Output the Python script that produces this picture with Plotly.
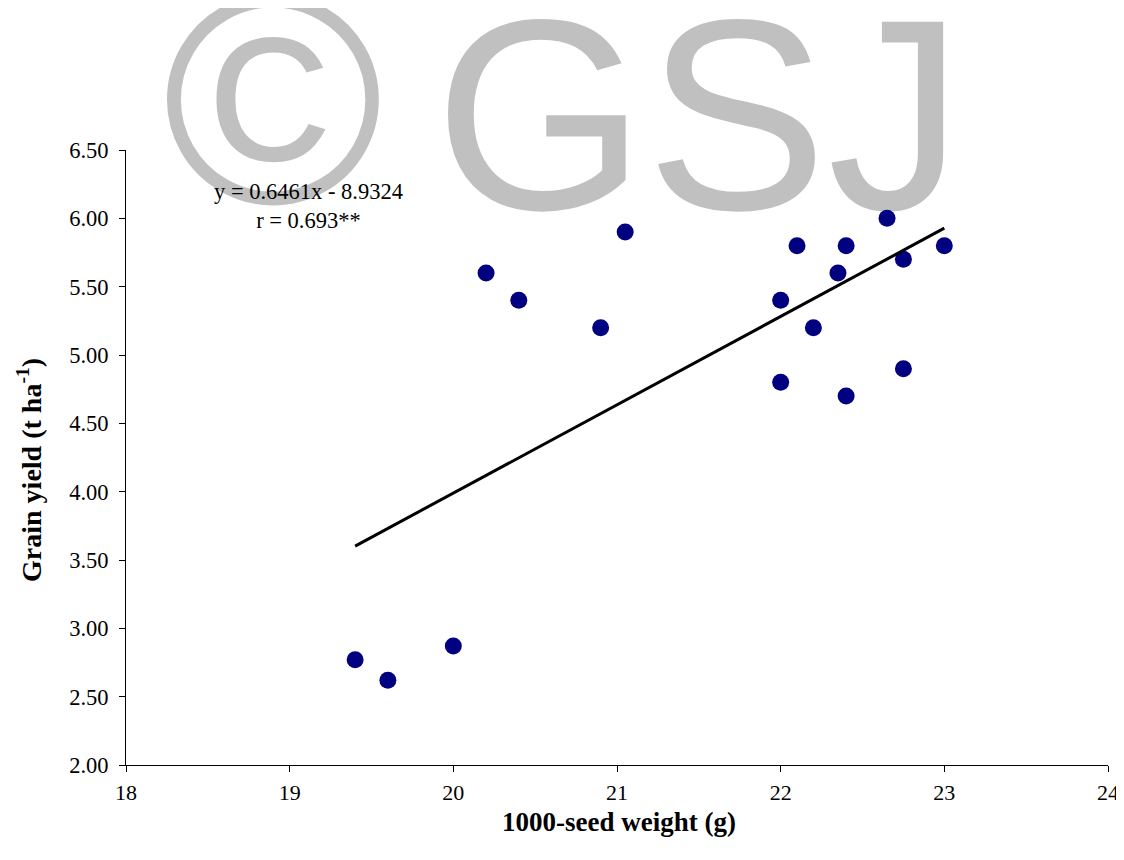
import plotly.graph_objects as go

# ---- data ----
seed_weight = [19.4, 19.6, 20.0, 20.2, 20.4, 20.9, 21.05, 22.0, 22.0,
               22.1, 22.2, 22.35, 22.4, 22.4, 22.65, 22.75, 22.75, 23.0]
grain_yield = [2.77, 2.62, 2.87, 5.6, 5.4, 5.2, 5.9, 5.4, 4.8,
               5.8, 5.2, 5.6, 5.8, 4.7, 6.0, 5.7, 4.9, 5.8]

slope = 0.6461
intercept = -8.9324
eq_text = "y = 0.6461x - 8.9324<br>r = 0.693**"

x_ticks = [18, 19, 20, 21, 22, 23, 24]
y_ticks = [2.0, 2.5, 3.0, 3.5, 4.0, 4.5, 5.0, 5.5, 6.0, 6.5]

x_title = "<b>1000-seed weight (g)</b>"
y_title = "<b>Grain yield (t ha<sup>-1</sup>)</b>"

wm_symbol = "©"
wm_text = "GSJ"

# ---- figure ----
serif = "Liberation Serif, Times New Roman, serif"
sans = "Liberation Sans, Arial, sans-serif"
fig = go.Figure()

# watermark (drawn first so it sits beneath the data)
fig.add_trace(go.Scatter(
    x=[18.898], y=[5.563], mode="text", text=[wm_symbol],
    textposition="top center", cliponaxis=False, hoverinfo="skip",
    textfont=dict(family=sans, size=300, color="#c0c0c0"),
    showlegend=False))
fig.add_trace(go.Scatter(
    x=[21.50], y=[5.571], mode="text", text=[wm_text],
    textposition="top center", cliponaxis=False, hoverinfo="skip",
    textfont=dict(family=sans, size=272, color="#c0c0c0"),
    showlegend=False))

# data points
fig.add_trace(go.Scatter(
    x=seed_weight, y=grain_yield, mode="markers",
    marker=dict(color="#000080", size=17, line=dict(width=0)),
    showlegend=False, cliponaxis=False))

# regression line
x_min, x_max = min(seed_weight), max(seed_weight)
fig.add_trace(go.Scatter(
    x=[x_min, x_max], y=[slope * x_min + intercept, slope * x_max + intercept],
    mode="lines", line=dict(color="black", width=3), showlegend=False))

fig.add_annotation(
    xref="paper", yref="paper", x=0.186, y=0.909, text=eq_text,
    showarrow=False, align="center", xanchor="center", yanchor="middle",
    font=dict(family=serif, size=22.5, color="black"))

# axis titles
fig.add_annotation(
    xref="paper", yref="paper", x=0.502, y=-0.093, text=x_title,
    showarrow=False, xanchor="center", yanchor="middle",
    font=dict(family=serif, size=27, color="black"))
fig.add_annotation(
    xref="paper", yref="paper", x=-0.0978, y=0.4797, text=y_title,
    showarrow=False, xanchor="center", yanchor="middle", textangle=-90,
    font=dict(family=serif, size=28, color="black"))

fig.update_layout(
    width=1116, height=852,
    margin=dict(l=118, r=16, t=142, b=95),
    paper_bgcolor="white", plot_bgcolor="white",
    font=dict(family=serif, color="black"),
)
fig.update_xaxes(
    range=[18, 24], tickvals=x_ticks, ticktext=[str(v) for v in x_ticks],
    showgrid=False, zeroline=False, showline=True, linecolor="black", linewidth=1,
    ticks="outside", ticklen=6, tickcolor="black", ticklabelstandoff=2,
    automargin=False,
    tickfont=dict(family=serif, size=22, color="black"))
fig.update_yaxes(
    range=[2, 6.5], tickvals=y_ticks, ticktext=[f"{v:.2f}" for v in y_ticks],
    showgrid=False, zeroline=False, showline=True, linecolor="black", linewidth=1,
    ticks="outside", ticklen=6, tickcolor="black", ticklabelstandoff=6,
    automargin=False,
    tickfont=dict(family=serif, size=22.5, color="black"))

fig.write_html("out.html")
